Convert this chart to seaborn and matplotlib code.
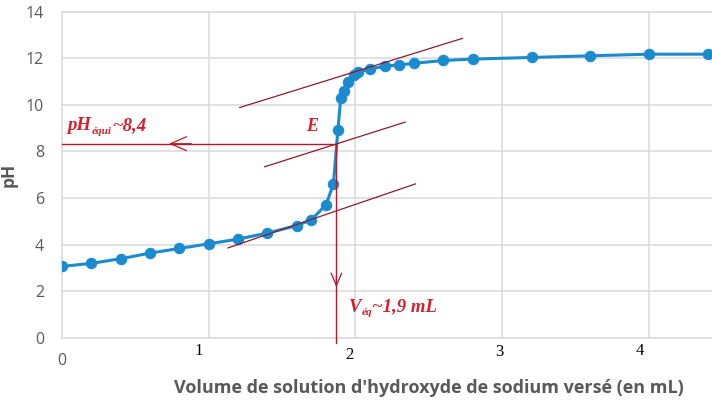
import pandas as pd
import matplotlib.pyplot as plt
import seaborn as sns

# titration data
volume = [0, 0.2, 0.4, 0.6, 0.8, 1.0, 1.2, 1.4, 1.6, 1.7, 1.8, 1.85, 1.88,
          1.9, 1.92, 1.95, 1.99, 2.02, 2.1, 2.2, 2.3, 2.4, 2.6, 2.8, 3.2,
          3.6, 4.0, 4.4]
ph = [3.07, 3.2, 3.4, 3.64, 3.84, 4.04, 4.24, 4.5, 4.82, 5.07, 5.72, 6.61,
      8.9, 10.3, 10.6, 10.98, 11.27, 11.41, 11.53, 11.66, 11.71, 11.78,
      11.9, 11.96, 12.03, 12.1, 12.17, 12.17]

x_ticks = [1, 2, 3, 4]
y_ticks = [0, 2, 4, 6, 8, 10, 12, 14]

# tangents (start, end) drawn by hand on the original
tangent_upper = ([1.21, 2.73], [9.88, 12.85])
tangent_mid = ([1.38, 2.34], [7.34, 9.26])
tangent_low = ([1.13, 2.41], [3.86, 6.61])

v_eq = 1.87
ph_eq = 8.33

blue = "#1b8bd0"
dark_red = "#8b1c2c"
red = "#b5182c"
text_red = "#d4202c"
grey = "#595959"

sns.set_style("white")
plt.rcParams["font.family"] = ["DejaVu Sans"]

df = pd.DataFrame({"volume": volume, "pH": ph})

fig = plt.figure(figsize=(7.12, 4.0), dpi=100)
ax = fig.add_axes([62 / 712, 62 / 400, 650 / 712, 326.5 / 400])

sns.lineplot(data=df, x="volume", y="pH", ax=ax, color=blue, lw=2.2,
             marker="o", markersize=7.5, markeredgecolor=blue, zorder=3)

ax.set_xlim(0, 4.43)
ax.set_ylim(0, 14)
ax.set_xticks(x_ticks)
ax.set_xticklabels([])
ax.set_yticks(y_ticks)
ax.set_yticklabels([str(v) for v in y_ticks], color=grey, fontsize=11.5,
                   family="Open Sans")
ax.tick_params(axis="both", length=0, pad=13)
ax.grid(True, color="#d9d9d9", lw=1.1)
for side in ["top", "left", "bottom"]:
    ax.spines[side].set_color("#d9d9d9")
    ax.spines[side].set_linewidth(1.1)
ax.spines["right"].set_visible(False)
ax.set_xlabel("")
ax.set_ylabel("")

# x tick labels pasted in serif on the original
serif = "Liberation Serif"
for t, (dx, dy) in zip(x_ticks, [(-0.07, -0.55), (-0.04, -0.72), (-0.02, -0.6), (-0.06, -0.55)]):
    ax.text(t + dx, dy, str(t), ha="center", va="center", fontsize=12,
            family=serif, color="black", clip_on=False)
ax.text(0, -0.98, "0", ha="center", va="center", fontsize=11.5,
        family="Open Sans", color=grey, clip_on=False)

# tangents
for tx, ty in [tangent_upper, tangent_mid, tangent_low]:
    ax.plot(tx, ty, color=dark_red, lw=0.9, zorder=4)

# construction lines
ax.plot([0, v_eq], [ph_eq, ph_eq], color=red, lw=1.0, zorder=4)
ax.plot([v_eq, v_eq], [ph_eq, -0.2], color=red, lw=1.0, zorder=4, clip_on=False)
ax.annotate("", xy=(0.71, ph_eq), xytext=(0.9, ph_eq),
            arrowprops=dict(arrowstyle="->,head_length=1.15,head_width=0.5",
                            color=red, lw=0.9, mutation_scale=10))
ax.annotate("", xy=(v_eq, 2.06), xytext=(v_eq, 2.8),
            arrowprops=dict(arrowstyle="->,head_length=0.9,head_width=0.38",
                            color=red, lw=0.9, mutation_scale=10))

# labels with subscripts, chained so pieces sit next to each other
lab = dict(family=serif, weight="bold", style="italic", color=text_red)


def label(x, y, main, sub, rest, gap=0.5, size=13.5):
    t1 = ax.text(x, y, main, fontsize=size, va="baseline", **lab)
    t2 = ax.annotate(sub, xy=(1, 0), xycoords=t1, xytext=(gap, -1),
                     textcoords="offset points", fontsize=size * 0.6,
                     va="bottom", **lab)
    ax.annotate(rest, xy=(1, 0), xycoords=t2, xytext=(0, 1),
                textcoords="offset points", fontsize=size,
                va="bottom", **lab)


label(0.035, 8.9, "pH", "équi", "~8,4")
label(1.957, 1.13, "V", "éq", "~1,9 mL", gap=0)
ax.text(1.667, 8.87, "E", fontsize=13, va="baseline", **lab)

fig.text(429 / 712, 0.018, "Volume de solution d'hydroxyde de sodium versé (en mL)",
         ha="center", va="baseline", fontsize=13, weight="bold", color=grey,
         family="Open Sans")
fig.text(9 / 712, 1 - 175 / 400, "pH", rotation=90, ha="center", va="center",
         fontsize=12.5, weight="bold", color=grey, family="Open Sans")

fig.savefig("out.png", dpi=100)
plt.close(fig)
